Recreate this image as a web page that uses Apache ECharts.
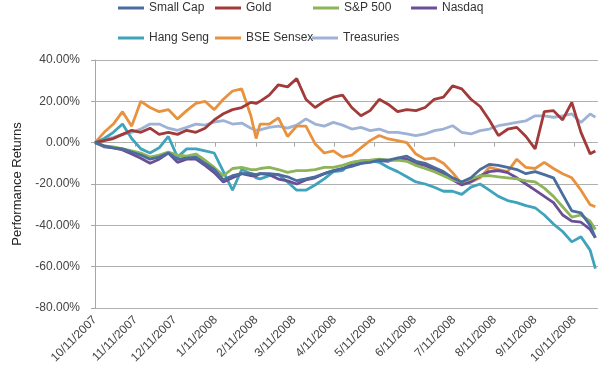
<!DOCTYPE html>
<html>
<head>
<meta charset="utf-8">
<script src="https://cdn.jsdelivr.net/npm/echarts@6/dist/echarts.min.js"></script>
<style>
html,body{margin:0;padding:0;background:#fff;}
#chart{width:603px;height:386px;}
</style>
</head>
<body>
<div id="chart"></div>
<script>
var dates = ['2007-10-11','2007-10-18','2007-10-25','2007-11-01','2007-11-08','2007-11-15','2007-11-22','2007-11-29','2007-12-06','2007-12-13','2007-12-20','2007-12-27',
'2008-01-03','2008-01-10','2008-01-17','2008-01-24','2008-01-31','2008-02-07','2008-02-11','2008-02-14','2008-02-21','2008-02-28','2008-03-06','2008-03-13','2008-03-20','2008-03-27',
'2008-04-03','2008-04-10','2008-04-17','2008-04-24','2008-05-01','2008-05-08','2008-05-15','2008-05-22','2008-05-29','2008-06-05','2008-06-12','2008-06-19','2008-06-26',
'2008-07-03','2008-07-10','2008-07-17','2008-07-24','2008-07-31','2008-08-07','2008-08-14','2008-08-21','2008-08-28','2008-09-04','2008-09-11','2008-09-18','2008-09-25',
'2008-10-02','2008-10-09','2008-10-16','2008-10-23','2008-10-27'];

var tickDates = ['2007-10-11','2007-11-11','2007-12-11','2008-01-11','2008-02-11','2008-03-11','2008-04-11','2008-05-11','2008-06-11','2008-07-11','2008-08-11','2008-09-11','2008-10-11'];

var smallCap = [0,-1.5,-2.5,-3,-4.5,-6,-8,-7,-5,-8,-7.5,-7,-10,-13,-18,-16,-15,-15,-15.5,-15,-15,-15.5,-16.5,-18.4,-17.5,-16.5,-15,-13.5,-12.5,-11.5,-10,-9.5,-8.5,-8.5,-7.5,-6.5,-9,-10,-12,-14,-17,-19,-17,-13,-10.5,-11,-12,-13,-15,-14,-15.5,-17,-25,-33,-34,-40,-46];
var gold = [0,1,2,4,6,5,7,4,5,4,6,5,7,11,14,16,17,19.5,19,20,23,28,27,31,21,17,20,22,23,17,13,15.5,21,18.5,15,16,15.5,17,21,22,27.5,26,21,17.5,11,3.4,6.5,7.4,3,-3,15,15.5,11,19.5,5,-5.4,-4];
var sp500 = [0,-1.5,-2,-3,-4,-5,-7,-6,-4.5,-6,-6.5,-5.5,-8.5,-12,-16,-12.5,-12,-13,-13,-12.5,-12,-13,-14.4,-13.5,-13.5,-13,-12,-12,-11,-9.5,-8.7,-8.5,-8,-8.5,-8.5,-9,-11,-12.5,-14,-16,-18,-19,-17.5,-16,-16,-16.5,-17,-17.5,-18.5,-19,-22,-26,-31,-36,-35,-38,-42];
var nasdaq = [0,-2,-2.5,-3.5,-5.5,-7.5,-10,-8,-5,-9.5,-8,-8,-11,-14.5,-19,-17,-15,-16,-16,-15,-15.5,-17.6,-18.5,-20,-18,-17,-15,-13.6,-12.5,-11,-10,-8.7,-8.7,-9,-7.5,-8,-10,-11,-13,-15,-18,-20.5,-19,-16,-14,-13.5,-14.5,-17,-20,-23,-26,-29,-35,-38,-38.5,-42,-46];
var hangSeng = [0,2,5,9,2,-3,-5,-2.5,3,-7,-3,-3,-4,-5,-14,-23,-13,-15,-17,-17.5,-16,-15.5,-19,-23,-23,-20.5,-17.5,-14,-13.5,-9.5,-9,-8.7,-9.5,-12,-14,-16.5,-19,-20,-21.6,-23.5,-23.5,-25,-21.5,-20,-23,-26,-28,-29,-30.5,-31.5,-35,-39.4,-43,-48,-45.5,-52,-61];
var bseSensex = [0,5,9,15,8,20,17,15,16,11.5,15.5,19,20,16,21,25,26,13,2,9,9,12,3,8,8,-0.5,-5,-4,-7,-6,-2.5,1,3.5,1.8,1,0,-5.5,-8,-7.5,-10,-14.5,-20,-19,-17,-12,-13,-14,-8,-12,-12.5,-9.5,-12.5,-15,-17,-23,-30,-31];
var treasuries = [0,1.5,2.6,4,5,6.6,9,9,7,6,7.4,9,8.5,10,10.7,9,9.5,7,6,6.2,7.4,8,7,8.5,11.5,9,8,9.8,8.5,6.6,7.4,5.8,6.6,5,5,4.2,3.4,4.2,5.8,6.6,8.2,5,4.2,5.8,6.6,8.2,9,9.8,10.6,13,13,12.3,13,13.9,9.8,13.9,12.3];

var names = ['Small Cap','Gold','S&P 500','Nasdaq','Hang Seng','BSE Sensex','Treasuries'];
var values = [smallCap, gold, sp500, nasdaq, hangSeng, bseSensex, treasuries];
var colors = ['#4a6d9e','#a33a3a','#8eb45a','#6b4f96','#3ea3bb','#e8923f','#9eb2d6'];

var DAY = 86400000;
function ts(s){var p=s.split('-');return Date.UTC(+p[0],+p[1]-1,+p[2]);}
var T0 = ts(dates[0]);
function dayOf(s){return Math.round((ts(s)-T0)/DAY);}
function fmt(d){var t=new Date(T0+d*DAY);return (t.getUTCMonth()+1)+'/'+t.getUTCDate()+'/'+t.getUTCFullYear();}

var tickDays = tickDates.map(dayOf);
var maxDay = dayOf('2008-10-29');

var series = names.map(function(n,k){
  return {
    name:n, type:'line', xAxisIndex:0, yAxisIndex:0,
    data: dates.map(function(d,i){return [dayOf(d), values[k][i]];}),
    showSymbol:false, symbol:'none',
    lineStyle:{width:2.8,color:colors[k]}, itemStyle:{color:colors[k]},
    z: 10 - k
  };
});

var legPos = [[118,2],[215,2],[313,2],[411,2],[118,32],[215,32],[312,32]];
var legends = names.map(function(n,k){
  return {
    data:[n], left:legPos[k][0], top:legPos[k][1], padding:0,
    icon:'rect', itemWidth:26, itemHeight:3,
    textStyle:{fontFamily:'Liberation Sans', fontSize:12, color:'#333'}
  };
});

var chart = echarts.init(document.getElementById('chart'), null, {renderer:'canvas'});
chart.setOption({
  animation:false,
  backgroundColor:'#fff',
  legend: legends,
  grid:{left:95, right:5, top:60, bottom:78, containLabel:false},
  xAxis:[{
    type:'value', min:0, max:maxDay,
    axisLine:{show:false, onZero:false},
    axisTick:{show:false},
    splitLine:{show:false},
    axisLabel:{
      customValues: tickDays, formatter:function(v){return fmt(v);},
      rotate:45, margin:10, fontFamily:'Liberation Sans', fontSize:12, color:'#444', hideOverlap:false
    }
  },{
    type:'value', min:0, max:maxDay, position:'top',
    axisLine:{show:false, onZero:true},
    axisTick:{show:true, inside:true, length:4, customValues: tickDays, lineStyle:{color:'#a6a6a6'}},
    axisLabel:{show:false},
    splitLine:{show:false}
  }],
  yAxis:{
    type:'value', min:-80, max:40, interval:20,
    name:'Performance Returns', nameLocation:'middle', nameGap:70,
    nameTextStyle:{fontFamily:'Liberation Sans', fontSize:13, color:'#222'},
    axisLine:{show:true, lineStyle:{color:'#a6a6a6'}},
    axisTick:{show:true, length:4, lineStyle:{color:'#a6a6a6'}},
    splitLine:{show:true, lineStyle:{color:'#b0b0b0', width:1}},
    axisLabel:{formatter:function(v){return v.toFixed(2)+'%';}, margin:15, fontFamily:'Liberation Sans', fontSize:12, color:'#444'}
  },
  series: series
});
</script>
</body>
</html>
